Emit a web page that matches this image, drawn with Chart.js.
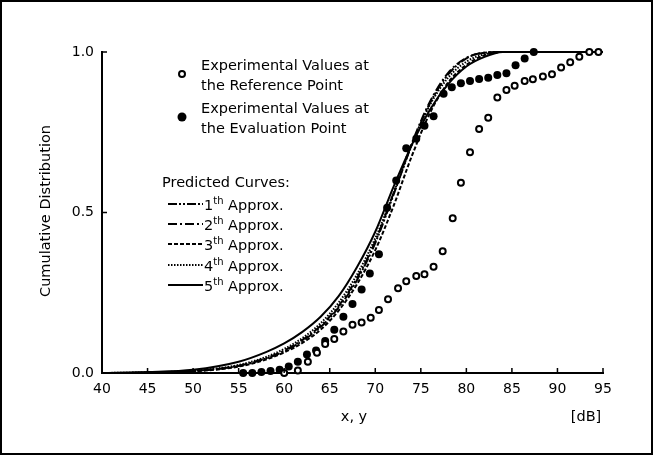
<!DOCTYPE html>
<html lang="en">
<head>
    <meta charset="UTF-8">
    <title>Cumulative Distribution</title>
    <script src="https://cdn.jsdelivr.net/npm/chart.js"></script>
    <style>
        body {
            margin: 0;
            padding: 0;
            background: #fff;
            font-family: 'DejaVu Sans', sans-serif;
            color: #000;
        }
        .wrap {
            position: relative;
            width: 653px;
            height: 455px;
        }
        .lbl {
            position: absolute;
            font-size: 14.5px;
            line-height: 20px;
            white-space: nowrap;
        }
        .lbl sup {
            font-size: 10px;
            vertical-align: 6px;
            line-height: 0;
        }
        .axis-title {
            position: absolute;
            font-size: 14.5px;
            white-space: nowrap;
            transform: translate(-50%, -50%);
        }
        #legendSvg {
            position: absolute;
            left: 0;
            top: 0;
            pointer-events: none;
        }
    </style>
</head>
<body>
    <div class="wrap">
        <canvas id="cdfChart" width="653" height="455"></canvas>

        <svg id="legendSvg" width="653" height="455"></svg>

        <div class="lbl" style="left:201px; top:55px;">Experimental Values at<br>the Reference Point</div>
        <div class="lbl" style="left:201px; top:98px;">Experimental Values at<br>the Evaluation Point</div>
        <div class="lbl" style="left:162px; top:172px;">Predicted Curves:</div>
        <div class="lbl" style="left:204px; top:195px;">1<sup>th</sup> Approx.</div>
        <div class="lbl" style="left:204px; top:215px;">2<sup>th</sup> Approx.</div>
        <div class="lbl" style="left:204px; top:235px;">3<sup>th</sup> Approx.</div>
        <div class="lbl" style="left:204px; top:256px;">4<sup>th</sup> Approx.</div>
        <div class="lbl" style="left:204px; top:276px;">5<sup>th</sup> Approx.</div>

        <div class="axis-title" style="left:45px; top:211px; transform: translate(-50%, -50%) rotate(-90deg);">Cumulative Distribution</div>
        <div class="axis-title" style="left:354px; top:416px;">x, y</div>
        <div class="axis-title" style="left:586px; top:416px;">[dB]</div>
    </div>

    <script>
        // tick values
        const xTicks = [40, 45, 50, 55, 60, 65, 70, 75, 80, 85, 90, 95];
        const yTicks = [0, 0.5, 1.0];

        // experimental values at the reference point (open circles)
        const refX = [60.0, 61.5, 62.6, 63.6, 64.5, 65.5, 66.5, 67.5, 68.5, 69.5, 70.4, 71.4, 72.5, 73.4,
                      74.5, 75.4, 76.4, 77.4, 78.5, 79.4, 80.4, 81.4, 82.4, 83.4, 84.4, 85.3, 86.4, 87.3,
                      88.4, 89.4, 90.4, 91.4, 92.4, 93.5, 94.5];
        const refY = [0.0, 0.008, 0.035, 0.063, 0.09, 0.106, 0.129, 0.15, 0.157, 0.172, 0.196, 0.23, 0.264, 0.286,
                      0.302, 0.308, 0.331, 0.379, 0.482, 0.593, 0.688, 0.76, 0.795, 0.858, 0.882, 0.895, 0.91, 0.915,
                      0.924, 0.931, 0.952, 0.968, 0.985, 1.0, 1.0];

        // experimental values at the evaluation point (filled circles)
        const evalX = [55.5, 56.5, 57.5, 58.5, 59.5, 60.5, 61.5, 62.5, 63.5, 64.5, 65.5, 66.5, 67.5, 68.5,
                       69.4, 70.4, 71.3, 72.3, 73.4, 74.5, 75.4, 76.4, 77.5, 78.4, 79.4, 80.4, 81.4, 82.4,
                       83.4, 84.4, 85.4, 86.4, 87.4];
        const evalY = [0.0, 0.0, 0.003, 0.006, 0.01, 0.02, 0.035, 0.058, 0.07, 0.1, 0.135, 0.175, 0.215, 0.26,
                       0.31, 0.37, 0.515, 0.6, 0.7, 0.73, 0.77, 0.8, 0.87, 0.89, 0.903, 0.91, 0.916, 0.92,
                       0.928, 0.934, 0.959, 0.98, 1.0];

        // predicted curves
        const curveX = [40, 45, 50, 55, 58, 60, 62, 64, 66, 68, 70, 72, 74, 76, 78, 80, 82, 84, 86, 95];
        const approx1 = [0, 0.001, 0.006, 0.022, 0.045, 0.068, 0.1, 0.143, 0.205, 0.29, 0.405, 0.555, 0.71, 0.84, 0.93, 0.98, 0.998, 1, 1, 1];
        const approx2 = [0, 0.001, 0.006, 0.023, 0.046, 0.07, 0.103, 0.147, 0.21, 0.296, 0.41, 0.56, 0.715, 0.845, 0.935, 0.982, 0.998, 1, 1, 1];
        const approx3 = [0, 0.001, 0.005, 0.02, 0.042, 0.064, 0.094, 0.135, 0.195, 0.277, 0.383, 0.52, 0.675, 0.81, 0.905, 0.96, 0.99, 1, 1, 1];
        const approx4 = [0, 0.002, 0.007, 0.025, 0.05, 0.075, 0.109, 0.155, 0.22, 0.307, 0.42, 0.56, 0.71, 0.835, 0.92, 0.97, 0.993, 1, 1, 1];
        const approx5 = [0, 0.003, 0.01, 0.035, 0.065, 0.092, 0.128, 0.175, 0.24, 0.33, 0.44, 0.58, 0.71, 0.82, 0.9, 0.955, 0.985, 1, 1, 1];

        const dashes = [[9, 2, 2, 2, 2, 2], [9, 3, 2, 3], [4, 2], [1.5, 1.5], []];
        const curves = [approx1, approx2, approx3, approx4, approx5];

        const toPts = (xs, ys) => xs.map((x, i) => ({ x: x, y: ys[i] }));

        const datasets = [
            {
                label: 'Reference Point',
                data: toPts(refX, refY),
                showLine: false,
                pointRadius: 3,
                pointBorderWidth: 2,
                pointBackgroundColor: '#fff',
                pointBorderColor: '#000',
                order: 0,
                clip: false
            },
            {
                label: 'Evaluation Point',
                data: toPts(evalX, evalY),
                showLine: false,
                pointRadius: 4,
                pointBorderWidth: 0,
                pointBackgroundColor: '#000',
                pointBorderColor: '#000',
                order: 0,
                clip: false
            }
        ];

        curves.forEach((c, i) => {
            datasets.push({
                label: (i + 1) + 'th Approx.',
                data: toPts(curveX, c),
                showLine: true,
                borderColor: '#000',
                borderWidth: 2,
                borderDash: dashes[i],
                pointRadius: 0,
                cubicInterpolationMode: 'monotone',
                fill: false,
                order: 1,
                clip: false
            });
        });

        // border of the picture and inner tick marks
        const framePlugin = {
            id: 'frame',
            afterDraw(chart) {
                const ctx = chart.ctx;
                const a = chart.chartArea;
                const xs = chart.scales.x;
                const ys = chart.scales.y;
                ctx.save();
                ctx.strokeStyle = '#000';
                ctx.lineWidth = 2;
                ctx.strokeRect(1, 1, chart.width - 2, chart.height - 2);
                ctx.lineWidth = 1.5;
                ctx.beginPath();
                xTicks.forEach(v => {
                    const p = xs.getPixelForValue(v);
                    ctx.moveTo(p, a.bottom);
                    ctx.lineTo(p, a.bottom - 5);
                });
                yTicks.forEach(v => {
                    const p = ys.getPixelForValue(v);
                    ctx.moveTo(a.left, p);
                    ctx.lineTo(a.left + 5, p);
                });
                ctx.stroke();
                ctx.restore();
            }
        };

        new Chart(document.getElementById('cdfChart'), {
            type: 'scatter',
            data: { datasets: datasets },
            options: {
                responsive: false,
                animation: false,
                layout: { padding: { left: 0, right: 50, top: 52, bottom: 0 } },
                plugins: {
                    legend: { display: false },
                    tooltip: { enabled: false }
                },
                scales: {
                    x: {
                        type: 'linear',
                        min: 40,
                        max: 95,
                        afterBuildTicks: s => { s.ticks = xTicks.map(v => ({ value: v })); },
                        afterFit: s => { s.height = 82; },
                        grid: { display: false, drawTicks: false },
                        border: { display: true, color: '#000', width: 2 },
                        ticks: {
                            color: '#000',
                            padding: 8,
                            maxRotation: 0,
                            font: { family: 'DejaVu Sans', size: 14 }
                        }
                    },
                    y: {
                        min: 0,
                        max: 1,
                        afterBuildTicks: s => { s.ticks = yTicks.map(v => ({ value: v })); },
                        afterFit: s => { s.width = 102; },
                        grid: { display: false, drawTicks: false },
                        border: { display: true, color: '#000', width: 2 },
                        ticks: {
                            color: '#000',
                            padding: 8,
                            callback: v => v.toFixed(1),
                            font: { family: 'DejaVu Sans', size: 14 }
                        }
                    }
                }
            },
            plugins: [framePlugin]
        });

        // legend samples
        const svg = document.getElementById('legendSvg');
        const NS = 'http://www.w3.org/2000/svg';
        function add(tag, attrs) {
            const el = document.createElementNS(NS, tag);
            Object.keys(attrs).forEach(k => el.setAttribute(k, attrs[k]));
            svg.appendChild(el);
        }
        add('circle', { cx: 182, cy: 74, r: 3, fill: '#fff', stroke: '#000', 'stroke-width': 2 });
        add('circle', { cx: 182, cy: 117, r: 4.5, fill: '#000' });
        const rowY = [204, 224, 244, 265, 285];
        rowY.forEach((y, i) => {
            add('line', {
                x1: 168, y1: y, x2: 203, y2: y,
                stroke: '#000', 'stroke-width': 2,
                'stroke-dasharray': dashes[i].length ? dashes[i].join(' ') : 'none'
            });
        });
    </script>
</body>
</html>
